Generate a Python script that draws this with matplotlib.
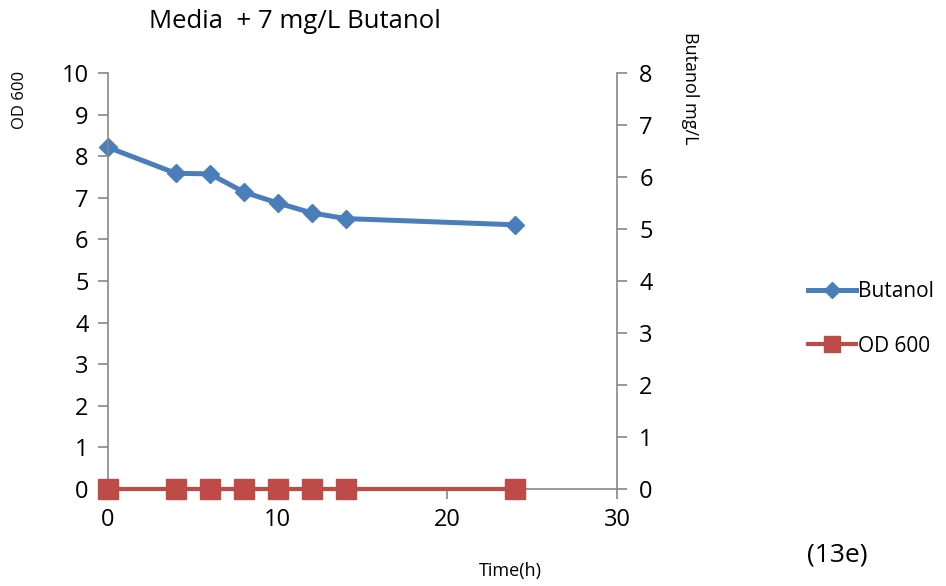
import numpy as np
import matplotlib.pyplot as plt

plt.rcParams['font.family'] = ['Open Sans', 'DejaVu Sans']

# data
time_h = [0, 4, 6, 8, 10, 12, 14, 24]
butanol = [6.57, 6.07, 6.06, 5.71, 5.50, 5.31, 5.20, 5.08]   # mg/L, right axis
od600 = [0, 0, 0, 0, 0, 0, 0, 0]                            # left axis

blue = "#4A7EBB"
red = "#BE4B48"
grey = "#868686"

fig = plt.figure(figsize=[9.46, 5.86], dpi=100)
ax = fig.add_axes([0.1142, 0.1655, 0.538, 0.710])
ax2 = ax.twinx()

# OD on left axis
l_od, = ax.plot(time_h, od600, color=red, lw=3, marker="s", ms=14,
                clip_on=False, zorder=5, label="OD 600")
# butanol on right axis
l_bu, = ax2.plot(time_h, butanol, color=blue, lw=3.6, marker="D", ms=9,
                 clip_on=False, zorder=5, label="Butanol")

ax.set_xlim(0, 30)
ax.set_ylim(0, 10)
ax2.set_ylim(0, 8)
ax.set_xticks([0, 10, 20, 30])
ax.set_yticks(np.arange(0, 11, 1))
ax2.set_yticks(np.arange(0, 9, 1))

for a in (ax, ax2):
    a.spines["top"].set_visible(False)
    for s in ("left", "right", "bottom"):
        a.spines[s].set_color(grey)
        a.spines[s].set_linewidth(1.2)
    a.tick_params(colors=grey, labelcolor="black", labelsize=17,
                  length=7, width=1.2, direction="out")
ax.spines["right"].set_visible(False)
ax2.spines["left"].set_visible(False)
ax2.spines["bottom"].set_visible(False)
ax.tick_params(axis="y", pad=7)
ax.tick_params(axis="x", pad=7)
ax2.tick_params(axis="y", pad=9)

ax.set_zorder(ax2.get_zorder() + 1)
ax.patch.set_visible(False)

fig.text(295 / 946, 1 - 22 / 586, "Media  + 7 mg/L Butanol", fontsize=18.5,
         ha="center", va="center")
fig.text(20 / 946, 1 - 100 / 586, "OD 600", fontsize=12, rotation=90,
         ha="center", va="center")
fig.text(690 / 946, 1 - 88 / 586, "Butanol mg/L", fontsize=13, rotation=-90,
         ha="center", va="center")
fig.text(510 / 946, 1 - 571 / 586, "Time(h)", fontsize=13,
         ha="center", va="center")
fig.text(837 / 946, 1 - 555 / 586, "(13e)", fontsize=19,
         ha="center", va="center")

fig.legend([l_bu, l_od], ["Butanol", "OD 600"], loc="center left",
           bbox_to_anchor=(789 / 946, 1 - 319 / 586), frameon=False,
           fontsize=15, handlelength=2.3, handletextpad=0.1,
           labelspacing=1.6, markerscale=0.85)

plt.savefig("out.png", dpi=100)
